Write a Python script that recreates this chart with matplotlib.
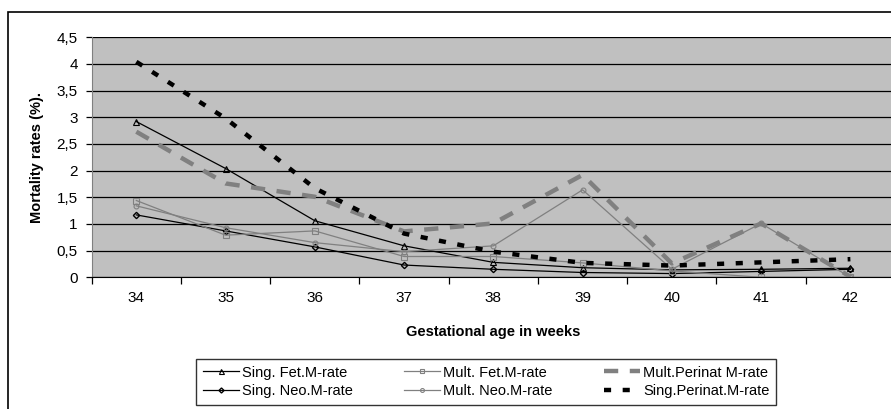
import matplotlib
matplotlib.use("Agg")
import matplotlib.pyplot as plt
from matplotlib.patches import Rectangle
from matplotlib.ticker import FuncFormatter

plt.rcParams['font.family'] = ['Liberation Sans', 'DejaVu Sans']

weeks = [34, 35, 36, 37, 38, 39, 40, 41, 42]
sing_fet = [2.92, 2.04, 1.06, 0.59, 0.28, 0.18, 0.14, 0.15, 0.17]
sing_neo = [1.17, 0.87, 0.57, 0.23, 0.15, 0.09, 0.07, 0.11, 0.15]
mult_fet = [1.44, 0.79, 0.87, 0.39, 0.39, 0.27, 0.12, 0.0, 0.0]
mult_neo = [1.34, 0.93, 0.65, 0.48, 0.59, 1.64, 0.15, 1.01, 0.0]
mult_perinat = [2.73, 1.76, 1.51, 0.86, 1.01, 1.92, 0.26, 1.01, 0.01]
sing_perinat = [4.04, 2.98, 1.67, 0.82, 0.48, 0.27, 0.22, 0.28, 0.34]

W, H = 891, 409
fig = plt.figure(figsize=(W / 100, H / 100), dpi=100)

# outer chart border (runs off the right and bottom)
fig.patches.append(Rectangle((8 / W, -0.1), 1.1, 1 - 12 / H + 0.1,
                             transform=fig.transFigure, fill=False,
                             edgecolor='black', linewidth=1.2))

left, right, top, bottom = 91.7, 895, 37.3, 277.3
ax = fig.add_axes([left / W, 1 - bottom / H, (right - left) / W, (bottom - top) / H])
ax.set_facecolor('#c0c0c0')

x = list(range(len(weeks)))
ax.plot(x, sing_fet, color='black', lw=0.9, marker='^', ms=4.5, mfc='none', mew=0.8,
        label='Sing. Fet.M-rate')
ax.plot(x, sing_neo, color='black', lw=0.9, marker='D', ms=3.2, mfc='none', mew=1.0,
        label='Sing. Neo.M-rate')
ax.plot(x, mult_fet, color='#808080', lw=0.9, marker='s', ms=3.8, mfc='none', mew=0.8,
        label='Mult. Fet.M-rate')
ax.plot(x, mult_neo, color='#808080', lw=0.9, marker='o', ms=3.5, mfc='none', mew=0.8,
        label='Mult. Neo.M-rate')
ax.plot(x, mult_perinat, color='#808080', lw=3.2, dashes=(3.2, 2.6),
        label='Mult.Perinat M-rate')
ax.plot(x, sing_perinat, color='black', lw=3.2, dashes=(1.6, 2.6),
        label='Sing.Perinat.M-rate')

ax.set_xlim(-0.5, 8.5 + (right - left) / 89.3 - 9)
ax.set_ylim(0, 4.5)
ax.set_yticks([0, 0.5, 1, 1.5, 2, 2.5, 3, 3.5, 4, 4.5])
ax.yaxis.set_major_formatter(FuncFormatter(lambda v, p: ('%g' % v).replace('.', ',')))
ax.yaxis.grid(True, color='black', lw=0.9)
ax.set_axisbelow(True)

ax.set_xticks(x)
ax.set_xticklabels([str(w) for w in weeks])
ax.set_xticks([i - 0.5 for i in range(10)], minor=True)
ax.tick_params(axis='x', which='major', length=0, pad=10, labelsize=11)
ax.tick_params(axis='x', which='minor', length=5, width=0.9)
ax.tick_params(axis='y', length=4, width=0.9, labelsize=11, pad=6)

for side in ['top', 'right']:
    ax.spines[side].set_visible(False)
ax.spines['left'].set_color('#808080')
ax.spines['bottom'].set_color('black')

ax.set_ylabel('Mortality rates (%).', fontsize=10.5, fontweight='bold', labelpad=9)
ax.set_xlabel('Gestational age in weeks', fontsize=10.5, fontweight='bold', labelpad=14)

leg = fig.legend(loc='upper left', bbox_to_anchor=(196 / W, 1 - 359 / H), ncol=3,
                 fontsize=10.5, frameon=True, fancybox=False, edgecolor='black',
                 handlelength=2.5, handletextpad=0.2, columnspacing=3.5,
                 labelspacing=0.3, borderpad=0.45, borderaxespad=0, markerscale=0.8)
leg.get_frame().set_linewidth(1.0)

fig.savefig('out.png', dpi=100)
